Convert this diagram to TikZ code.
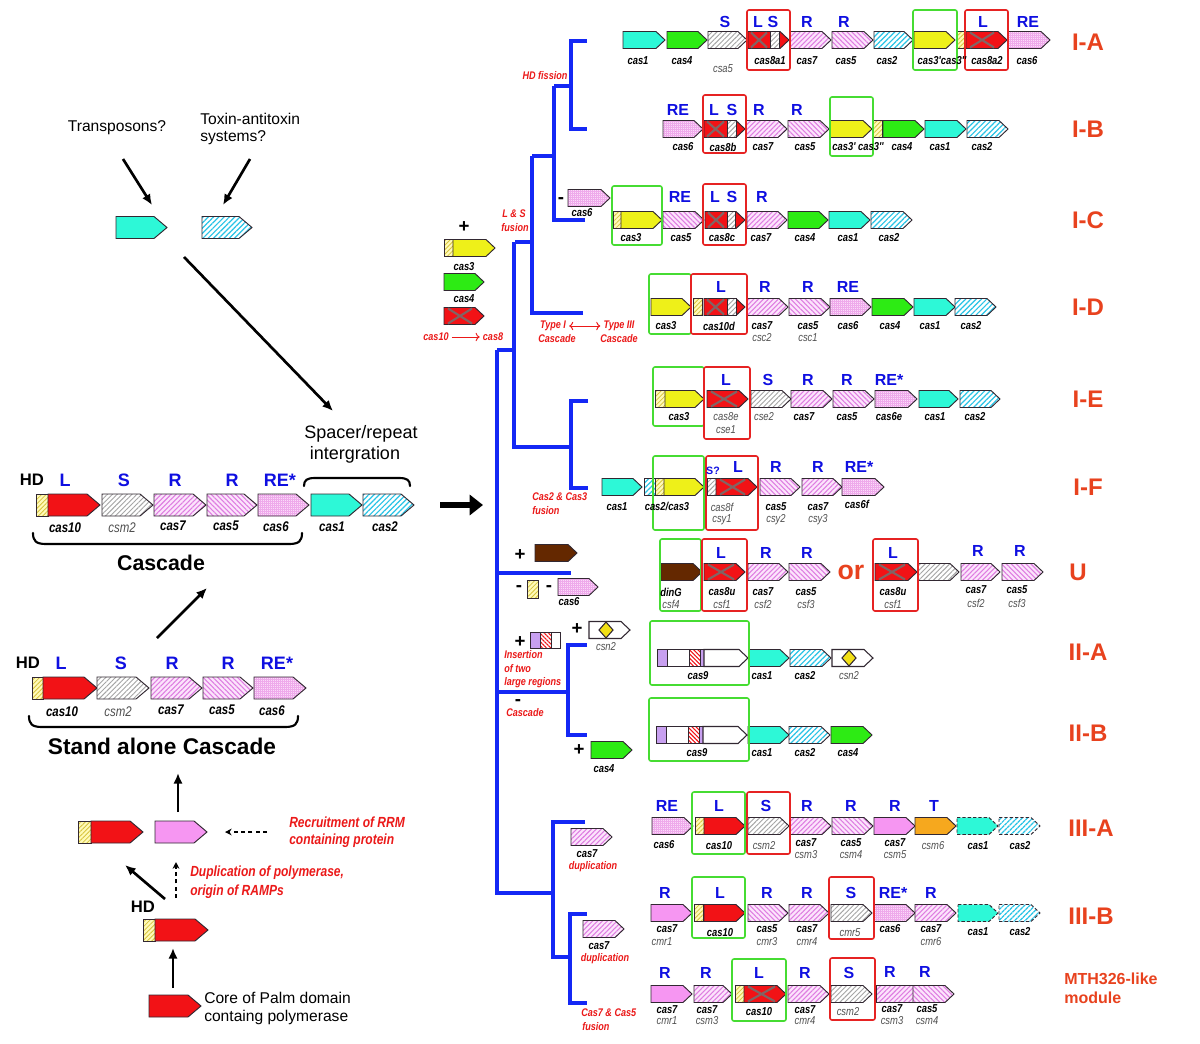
\documentclass[tikz,border=0pt]{standalone}
\usepackage{fontspec}
\setmainfont{Liberation Sans}
\newfontfamily\narrowsans{Liberation Sans}[FakeStretch=0.82]
\usetikzlibrary{patterns.meta,arrows.meta,calc}
\definecolor{cyanA}{RGB}{45,248,215}
\definecolor{cyanB}{RGB}{40,195,230}
\definecolor{grn}{RGB}{45,235,20}
\definecolor{yel}{RGB}{238,240,25}
\definecolor{hdbg}{RGB}{255,250,185}
\definecolor{hdln}{RGB}{215,195,60}
\definecolor{redg}{RGB}{242,18,22}
\definecolor{pkbg}{RGB}{252,228,252}
\definecolor{pkln}{RGB}{222,125,225}
\definecolor{p6bg}{RGB}{251,218,248}
\definecolor{p6ln}{RGB}{238,170,235}
\definecolor{pks}{RGB}{246,150,242}
\definecolor{gyln}{RGB}{165,165,165}
\definecolor{org}{RGB}{246,168,30}
\definecolor{brn}{RGB}{100,40,0}
\definecolor{pur}{RGB}{200,160,240}
\definecolor{lblue}{RGB}{15,15,225}
\definecolor{tred}{RGB}{235,25,25}
\definecolor{grpred}{RGB}{232,66,30}
\definecolor{treeblue}{RGB}{20,40,245}
\definecolor{boxgreen}{RGB}{70,220,50}
\definecolor{boxred}{RGB}{230,35,35}
\definecolor{xgray}{RGB}{130,100,100}
\definecolor{altgray}{RGB}{80,80,80}
\definecolor{ink}{RGB}{50,40,50}
\tikzset{
 gb/.style={draw=ink, line width=0.7pt},
 cA/.style={gb, fill=cyanA},
 cB/.style={gb, preaction={fill=white}, pattern={Lines[angle=45,distance=2.8pt,line width=0.9pt]}, pattern color=cyanB},
 cAd/.style={cA, dash pattern=on 2.5pt off 1.5pt},
 cBd/.style={cB, dash pattern=on 2.5pt off 1.5pt},
 gr/.style={gb, fill=grn},
 ye/.style={gb, fill=yel},
 hd/.style={gb, preaction={fill=hdbg}, pattern={Lines[angle=45,distance=2.4pt,line width=0.6pt]}, pattern color=hdln},
 rd/.style={gb, fill=redg},
 p7/.style={gb, preaction={fill=pkbg}, pattern={Lines[angle=45,distance=2.6pt,line width=0.8pt]}, pattern color=pkln},
 p5/.style={gb, preaction={fill=pkbg}, pattern={Lines[angle=-45,distance=2.6pt,line width=0.8pt]}, pattern color=pkln},
 p6/.style={gb, preaction={fill=p6bg}, pattern={Hatch[angle=0,distance=1.5pt,line width=0.3pt]}, pattern color=p6ln},
 ps/.style={gb, fill=pks},
 gy/.style={gb, preaction={fill=white}, pattern={Lines[angle=45,distance=2.6pt,line width=0.7pt]}, pattern color=gyln},
 og/.style={gb, fill=org},
 bw/.style={gb, fill=brn},
 wh/.style={gb, fill=white, line width=0.8pt},
 pu/.style={gb, fill=pur},
 rh/.style={gb, preaction={fill=white}, pattern={Lines[angle=-45,distance=2.2pt,line width=0.8pt]}, pattern color=redg},
 xline/.style={draw=xgray, line width=1.6pt},
 gbox/.style={draw=boxgreen, line width=1.2pt, rounded corners=1.5pt},
 rbox/.style={draw=boxred, line width=1.2pt, rounded corners=1.5pt},
 blutree/.style={draw=treeblue, line width=2.6pt},
 gl/.style={inner sep=0pt, font=\narrowsans\fontsize{8.6}{9}\selectfont\bfseries\itshape},
 ga/.style={inner sep=0pt, text=altgray, font=\narrowsans\fontsize{8.6}{9}\selectfont\itshape},
 glL/.style={inner sep=0pt, font=\narrowsans\fontsize{10.5}{11}\selectfont\bfseries\itshape},
 gaL/.style={inner sep=0pt, text=altgray, font=\narrowsans\fontsize{10.5}{11}\selectfont\itshape},
 bl/.style={inner sep=0pt, text=lblue, font=\fontsize{12}{14}\selectfont\bfseries},
 blL/.style={inner sep=0pt, text=lblue, font=\fontsize{13.5}{15}\selectfont\bfseries},
 hdl/.style={inner sep=0pt, font=\fontsize{12.5}{14}\selectfont\bfseries},
 grp/.style={inner sep=0pt, text=grpred, font=\fontsize{18}{21}\selectfont\bfseries},
 rl/.style={inner sep=0pt, text=tred, font=\narrowsans\fontsize{8.3}{9}\selectfont\bfseries\itshape},
 rlL/.style={inner sep=0pt, text=tred, font=\narrowsans\fontsize{11}{12}\selectfont\bfseries\itshape},
 pm/.style={inner sep=0pt, font=\fontsize{14}{16}\selectfont\bfseries},
 tx/.style={inner sep=0pt, font=\fontsize{11.7}{13}\selectfont},
 arr/.style={-{Latex[length=8pt,width=7pt]}, line width=2pt},
 darr/.style={-{Stealth[length=5pt,width=5pt]}, line width=1pt, dash pattern=on 3pt off 2.5pt},
}
\newcounter{lblcnt}
\newcommand\mylab[4][]{\stepcounter{lblcnt}\node[#1] (L\arabic{lblcnt}) at (#2,#3) {#4};}
\newcommand\gArr[4]{\path[#4] (#1,#3-8.5) -- (#2-9,#3-8.5) -- (#2,#3) -- (#2-9,#3+8.5) -- (#1,#3+8.5) -- cycle;}
\newcommand\gRect[4]{\path[#4] (#1,#3-8.5) rectangle (#2,#3+8.5);}
\newcommand\gCross[3]{\draw[xline] (#1,#3-7.5) -- (#2,#3+7.5) (#1,#3+7.5) -- (#2,#3-7.5);}
\newcommand\gBig[4]{\path[#4] (#1,#3-11) -- (#2-13,#3-11) -- (#2,#3) -- (#2-13,#3+11) -- (#1,#3+11) -- cycle;}
\newcommand\gBigRect[4]{\path[#4] (#1,#3-11) rectangle (#2,#3+11);}
\newcommand\boxG[4]{\draw[gbox] (#1,#3) rectangle (#2,#4);}
\newcommand\boxR[4]{\draw[rbox] (#1,#3) rectangle (#2,#4);}
\newcommand\dia[2]{\path[gb,fill=yel!85!orange,line width=0.8pt] (#1,#2-8) -- (#1+7,#2) -- (#1,#2+8) -- (#1-7,#2) -- cycle;}
\newcommand\casnine[2]{%
 \path[pu] (#1,#2-8.5) rectangle (#1+10,#2+8.5);
 \path[gb,fill=white] (#1+10,#2-8.5) rectangle (#1+32,#2+8.5);
 \path[rh] (#1+32,#2-8.5) rectangle (#1+43,#2+8.5);
 \path[pu] (#1+43,#2-8.5) rectangle (#1+47,#2+8.5);
 \gArr{#1+47}{#1+91}{#2}{wh}}
\begin{document}
\begin{tikzpicture}[x=0.75pt,y=-0.75pt]
\fill[white] (0,0) rectangle (1200,1043);
\path[use as bounding box] (0,0) rectangle (1200,1043);

% ================= tree =================
\draw[blutree] (587,41) -- (571,41) -- (571,129) -- (587,129);
\draw[blutree] (554,86) -- (571,86);
\draw[blutree] (585,220) -- (554,220) -- (554,86);
\draw[blutree] (532,156) -- (554,156);
\draw[blutree] (583,313) -- (532,313) -- (532,156);
\draw[blutree] (515,242) -- (532,242);
\draw[blutree] (571,447) -- (514,447) -- (514,242);
\draw[blutree] (497,350) -- (514,350);
\draw[blutree] (497,350) -- (497,893) -- (553,893);
\draw[blutree] (497,573) -- (571,573);
\draw[blutree] (497,692) -- (568,692);
\draw[blutree] (587,645) -- (568,645) -- (568,735) -- (587,735);
\draw[blutree] (588,401) -- (571,401) -- (571,488) -- (588,488);
\draw[blutree] (585,822) -- (553,822) -- (553,957) -- (570,957);
\draw[blutree] (587,914) -- (570,914) -- (570,1003) -- (587,1003);

\mylab[rl]{545}{76}{HD fission}
\mylab[rl]{514}{214}{L \& S}
\mylab[rl]{515}{228}{fusion}
\node[rl] (typeI) at (553,326) {Type I};
\node[rl] (typeIII) at (619,326) {Type III};
\draw[tred, line width=0.7pt, {To[length=3pt]}-{To[length=3pt]}] ($(typeI.east)+(3,0)$) -- ($(typeIII.west)+(-3,0)$);
\mylab[rl]{557}{339}{Cascade}
\mylab[rl]{619}{339}{Cascade}
\mylab[rl, anchor=west]{532}{497}{Cas2 \& Cas3}
\mylab[rl, anchor=west]{532}{511}{fusion}

% left-of-tree insert genes
\mylab[pm]{464}{227}{+}
\gRect{444}{453}{248}{hd} \gArr{453}{495}{248}{ye}
\mylab[gl]{464}{267}{cas3}
\gArr{444}{484}{282}{gr}
\mylab[gl]{464}{299}{cas4}
\gArr{444}{484}{316}{rd} \gCross{448}{472}{316}
\node[rl] (c10) at (436,337) {cas10};
\node[rl] (c8) at (493,337) {cas8};
\draw[tred, line width=0.7pt, -{To[length=3pt]}] ($(c10.east)+(3,0)$) -- ($(c8.west)+(-3,0)$);

% ================= I-A =================
\gArr{623}{665}{40}{cA}
\gArr{667}{707}{40}{gr}
\gArr{708}{747}{40}{gy}
\gArr{748}{789}{40}{rd} \gRect{770}{779}{40}{gy} \gCross{751}{767}{40}
\gArr{790}{831}{40}{p7}
\gArr{832}{873}{40}{p5}
\gArr{874}{913}{40}{cB}
\gArr{914}{955}{40}{ye}
\gRect{956}{966}{40}{hd}
\gArr{966}{1007}{40}{rd} \gCross{970}{994}{40}
\gArr{1008}{1050}{40}{p6}
\boxR{747}{790}{10}{70} \boxG{913}{957}{10}{70} \boxR{965}{1008}{10}{70}
\mylab[bl]{725}{22}{S} \mylab[bl]{758}{22}{L} \mylab[bl]{773}{22}{S}
\mylab[bl]{807}{22}{R} \mylab[bl]{844}{22}{R} \mylab[bl]{983}{22}{L} \mylab[bl]{1028}{22}{RE}
\mylab[gl]{638}{61}{cas1} \mylab[gl]{682}{61}{cas4} \mylab[ga]{723}{69}{csa5}
\mylab[gl]{770}{61}{cas8a1} \mylab[gl]{807}{61}{cas7} \mylab[gl]{846}{61}{cas5}
\mylab[gl]{887}{61}{cas2} \mylab[gl]{942}{61}{cas3'cas3''} \mylab[gl]{987}{61}{cas8a2}
\mylab[gl]{1027}{61}{cas6}
\mylab[grp]{1088}{42}{I-A}

% ================= I-B =================
\gArr{663}{703}{129}{p6}
\gArr{704}{745}{129}{rd} \gRect{727}{736}{129}{gy} \gCross{707}{724}{129}
\gArr{746}{787}{129}{p7}
\gArr{788}{829}{129}{p5}
\gArr{830}{872}{129}{ye}
\gRect{872}{882}{129}{hd}
\gArr{883}{924}{129}{gr}
\gArr{925}{966}{129}{cA}
\gArr{967}{1008}{129}{cB}
\boxR{703}{746}{95}{153} \boxG{830}{873}{97}{156}
\mylab[bl]{678}{110}{RE} \mylab[bl]{714}{110}{L} \mylab[bl]{732}{110}{S}
\mylab[bl]{759}{110}{R} \mylab[bl]{797}{110}{R}
\mylab[gl]{683}{147}{cas6} \mylab[gl]{723}{147}{cas8b} \mylab[gl]{763}{147}{cas7}
\mylab[gl]{805}{147}{cas5} \mylab[gl]{858}{147}{cas3' cas3''} \mylab[gl]{902}{147}{cas4}
\mylab[gl]{940}{147}{cas1} \mylab[gl]{982}{147}{cas2}
\mylab[grp]{1088}{129}{I-B}

% ================= I-C =================
\mylab[pm]{561}{201}{-}
\gArr{568}{610}{198}{p6}
\mylab[gl]{582}{213}{cas6}
\gRect{613}{621}{220}{hd} \gArr{621}{662}{220}{ye}
\gArr{663}{704}{220}{p5}
\gArr{705}{745}{220}{rd} \gRect{727}{735}{220}{gy} \gCross{708}{724}{220}
\gArr{747}{787}{220}{p7}
\gArr{788}{828}{220}{gr}
\gArr{829}{870}{220}{cA}
\gArr{871}{912}{220}{cB}
\boxG{612}{662}{186}{245} \boxR{703}{746}{184}{245}
\mylab[bl]{680}{197}{RE} \mylab[bl]{715}{197}{L} \mylab[bl]{732}{197}{S} \mylab[bl]{762}{197}{R}
\mylab[gl]{631}{238}{cas3} \mylab[gl]{681}{238}{cas5} \mylab[gl]{722}{238}{cas8c}
\mylab[gl]{761}{238}{cas7} \mylab[gl]{805}{238}{cas4} \mylab[gl]{848}{238}{cas1} \mylab[gl]{889}{238}{cas2}
\mylab[grp]{1088}{220}{I-C}

% ================= I-D =================
\gArr{651}{691}{307}{ye}
\gRect{693}{702}{307}{hd}
\gArr{704}{745}{307}{rd} \gRect{727}{736}{307}{gy} \gCross{707}{724}{307}
\gArr{747}{788}{307}{p7}
\gArr{789}{830}{307}{p5}
\gArr{830}{871}{307}{p6}
\gArr{872}{913}{307}{gr}
\gArr{914}{955}{307}{cA}
\gArr{955}{996}{307}{cB}
\boxG{649}{691}{274}{334} \boxR{691}{747}{274}{334}
\mylab[bl]{721}{287}{L} \mylab[bl]{765}{287}{R} \mylab[bl]{808}{287}{R} \mylab[bl]{848}{287}{RE}
\mylab[gl]{666}{326}{cas3} \mylab[gl]{719}{326}{cas10d} \mylab[gl]{762}{326}{cas7}
\mylab[gl]{808}{326}{cas5} \mylab[gl]{848}{326}{cas6} \mylab[gl]{890}{326}{cas4}
\mylab[gl]{930}{326}{cas1} \mylab[gl]{971}{326}{cas2}
\mylab[ga]{762}{338}{csc2} \mylab[ga]{808}{338}{csc1}
\mylab[grp]{1088}{307}{I-D}

% ================= I-E =================
\gRect{655}{665}{399}{hd} \gArr{665}{704}{399}{ye}
\gArr{707}{748}{399}{rd} \gCross{711}{737}{399}
\gArr{751}{791}{399}{gy}
\gArr{791}{832}{399}{p7}
\gArr{833}{874}{399}{p5}
\gArr{875}{917}{399}{p6}
\gArr{919}{958}{399}{cA}
\gArr{960}{1000}{399}{cB}
\boxG{653}{704}{367}{426} \boxR{704}{750}{367}{439}
\mylab[bl]{726}{380}{L} \mylab[bl]{768}{380}{S} \mylab[bl]{808}{380}{R}
\mylab[bl]{847}{380}{R} \mylab[bl]{889}{380}{RE*}
\mylab[gl]{679}{417}{cas3} \mylab[ga]{726}{417}{cas8e} \mylab[ga]{726}{430}{cse1}
\mylab[ga]{764}{417}{cse2} \mylab[gl]{804}{417}{cas7} \mylab[gl]{847}{417}{cas5}
\mylab[gl]{889}{417}{cas6e} \mylab[gl]{935}{417}{cas1} \mylab[gl]{975}{417}{cas2}
\mylab[grp]{1088}{399}{I-E}

% ================= I-F =================
\gArr{602}{642}{487}{cA}
\gRect{644}{655}{487}{cB} \gRect{655}{664}{487}{hd} \gArr{664}{704}{487}{ye}
\gRect{707}{716}{487}{gy} \gArr{716}{757}{487}{rd} \gCross{720}{745}{487}
\gArr{760}{800}{487}{p5}
\gArr{802}{842}{487}{p7}
\gArr{842}{884}{487}{p6}
\boxG{653}{704}{456}{530} \boxR{706}{758}{456}{530}
\mylab[bl, font=\fontsize{8}{9}\selectfont\bfseries]{713}{471}{S?}
\mylab[bl]{738}{467}{L} \mylab[bl]{776}{467}{R} \mylab[bl]{818}{467}{R} \mylab[bl]{859}{467}{RE*}
\mylab[gl]{617}{507}{cas1} \mylab[gl]{667}{506}{cas2/cas3} \mylab[ga]{722}{507}{cas8f}
\mylab[ga]{722}{520}{csy1} \mylab[gl]{776}{507}{cas5} \mylab[ga]{776}{520}{csy2}
\mylab[gl]{818}{507}{cas7} \mylab[ga]{818}{520}{csy3} \mylab[gl]{857}{504}{cas6f}
\mylab[grp]{1088}{487}{I-F}

% ================= U =================
\mylab[pm]{520}{555}{+}
\gArr{535}{577}{553}{bw}
\mylab[pm]{519}{589}{-}
\path[hd] (527,580) rectangle (538,598);
\mylab[pm]{549}{589}{-}
\gArr{558}{598}{587}{p6}
\mylab[gl]{569}{602}{cas6}
\gArr{661}{702}{572}{bw}
\gArr{704}{745}{572}{rd} \gCross{708}{734}{572}
\gArr{748}{788}{572}{p7}
\gArr{789}{830}{572}{p5}
\gArr{875}{917}{572}{rd} \gCross{879}{905}{572}
\gArr{918}{959}{572}{gy}
\gArr{961}{1000}{572}{p7}
\gArr{1002}{1043}{572}{p5}
\boxG{660}{701}{539}{611} \boxR{702}{747}{539}{611} \boxR{873}{918}{539}{611}
\mylab[grp, font=\fontsize{20}{22}\selectfont\bfseries]{851}{572}{or}
\mylab[bl]{721}{553}{L} \mylab[bl]{766}{553}{R} \mylab[bl]{807}{553}{R}
\mylab[bl]{893}{553}{L} \mylab[bl]{978}{551}{R} \mylab[bl]{1020}{551}{R}
\mylab[gl]{671}{592}{dinG} \mylab[gl]{722}{592}{cas8u} \mylab[gl]{763}{592}{cas7} \mylab[gl]{806}{592}{cas5}
\mylab[ga]{671}{604}{csf4} \mylab[ga]{722}{604}{csf1} \mylab[ga]{763}{604}{csf2} \mylab[ga]{806}{604}{csf3}
\mylab[gl]{893}{592}{cas8u} \mylab[ga]{893}{604}{csf1}
\mylab[gl]{976}{590}{cas7} \mylab[ga]{976}{603}{csf2}
\mylab[gl]{1017}{590}{cas5} \mylab[ga]{1017}{603}{csf3}
\mylab[grp]{1078}{572}{U}

% ================= II-A =================
\mylab[pm]{520}{642}{+}
\path[pu] (530,632) rectangle (540,648);
\path[rh] (540,632) rectangle (551,648);
\path[gb,fill=white] (551,632) rectangle (560,648);
\mylab[pm]{577}{629}{+}
\gArr{589}{630}{630}{wh} \dia{606}{630}
\mylab[ga]{606}{647}{csn2}
\casnine{657}{658}
\gArr{749}{789}{658}{cA} \gArr{790}{831}{658}{cB} \gArr{832}{873}{658}{wh} \dia{849}{658}
\boxG{650}{749}{621}{685}
\mylab[gl]{698}{676}{cas9} \mylab[gl]{762}{676}{cas1} \mylab[gl]{805}{676}{cas2} \mylab[ga]{849}{676}{csn2}
\mylab[rl, anchor=west]{504}{655}{Insertion}
\mylab[rl, anchor=west]{504}{669}{of two}
\mylab[rl, anchor=west]{504}{683}{large regions}
\mylab[grp]{1088}{652}{II-A}

% ================= II-B =================
\casnine{656}{735}
\gArr{748}{789}{735}{cA} \gArr{789}{830}{735}{cB} \gArr{831}{872}{735}{gr}
\boxG{649}{749}{698}{761}
\mylab[gl]{697}{753}{cas9} \mylab[gl]{762}{753}{cas1} \mylab[gl]{805}{753}{cas2} \mylab[gl]{848}{753}{cas4}
\mylab[pm]{579}{750}{+}
\gArr{591}{632}{750}{gr}
\mylab[gl]{604}{769}{cas4}
\mylab[pm]{518}{703}{-}
\mylab[rl, anchor=west]{506}{713}{Cascade}
\mylab[grp]{1088}{733}{II-B}

% ================= III-A =================
\gArr{652}{693}{826}{p6}
\gRect{695}{704}{826}{hd} \gArr{704}{745}{826}{rd}
\gArr{748}{789}{826}{gy}
\gArr{790}{831}{826}{p7}
\gArr{832}{873}{826}{p5}
\gArr{874}{915}{826}{ps}
\gArr{915}{956}{826}{og}
\gArr{957}{998}{826}{cAd}
\gArr{999}{1040}{826}{cBd}
\boxG{692}{745}{792}{854} \boxR{747}{790}{792}{854}
\mylab[bl]{667}{806}{RE} \mylab[bl]{719}{806}{L} \mylab[bl]{766}{806}{S} \mylab[bl]{807}{806}{R}
\mylab[bl]{851}{806}{R} \mylab[bl]{895}{806}{R} \mylab[bl]{934}{806}{T}
\mylab[gl]{664}{845}{cas6} \mylab[gl]{719}{846}{cas10} \mylab[ga]{764}{846}{csm2}
\mylab[gl]{806}{843}{cas7} \mylab[ga]{806}{855}{csm3}
\mylab[gl]{851}{843}{cas5} \mylab[ga]{851}{855}{csm4}
\mylab[gl]{895}{843}{cas7} \mylab[ga]{895}{855}{csm5}
\mylab[ga]{933}{846}{csm6} \mylab[gl]{978}{846}{cas1} \mylab[gl]{1020}{846}{cas2}
\mylab[grp]{1091}{828}{III-A}
\gArr{571}{612}{837}{p7}
\mylab[gl]{587}{854}{cas7}
\mylab[rl]{593}{867}{duplication}

% ================= III-B =================
\gArr{651}{692}{913}{ps}
\gRect{694}{703}{913}{hd} \gArr{704}{745}{913}{rd}
\gArr{748}{788}{913}{p5}
\gArr{789}{829}{913}{p7}
\gArr{831}{872}{913}{gy}
\gArr{874}{915}{913}{p6}
\gArr{915}{956}{913}{p7}
\gArr{958}{998}{913}{cAd}
\gArr{999}{1040}{913}{cBd}
\boxG{692}{745}{877}{938} \boxR{829}{874}{877}{939}
\mylab[bl]{665}{893}{R} \mylab[bl]{720}{893}{L} \mylab[bl]{767}{893}{R} \mylab[bl]{807}{893}{R}
\mylab[bl]{851}{893}{S} \mylab[bl]{893}{893}{RE*} \mylab[bl]{931}{893}{R}
\mylab[gl]{667}{929}{cas7} \mylab[ga]{662}{942}{cmr1}
\mylab[gl]{720}{933}{cas10}
\mylab[gl]{767}{929}{cas5} \mylab[ga]{767}{942}{cmr3}
\mylab[gl]{807}{929}{cas7} \mylab[ga]{807}{942}{cmr4}
\mylab[ga]{850}{933}{cmr5} \mylab[gl]{890}{929}{cas6}
\mylab[gl]{931}{929}{cas7} \mylab[ga]{931}{942}{cmr6}
\mylab[gl]{978}{932}{cas1} \mylab[gl]{1020}{932}{cas2}
\mylab[grp]{1091}{916}{III-B}
\gArr{583}{624}{929}{p7}
\mylab[gl]{599}{946}{cas7}
\mylab[rl]{605}{959}{duplication}

% ================= MTH326-like =================
\gArr{651}{692}{994}{ps}
\gArr{694}{732}{994}{p7}
\gRect{735}{744}{994}{hd} \gArr{744}{786}{994}{rd} \gCross{748}{775}{994}
\gArr{788}{829}{994}{p7}
\gArr{831}{872}{994}{gy}
\gRect{876}{913}{994}{p7} \gArr{913}{954}{994}{p5}
\boxG{732}{786}{959}{1021} \boxR{830}{875}{958}{1020}
\mylab[bl]{665}{973}{R} \mylab[bl]{706}{973}{R} \mylab[bl]{759}{973}{L} \mylab[bl]{805}{973}{R}
\mylab[bl]{849}{973}{S} \mylab[bl]{890}{972}{R} \mylab[bl]{925}{972}{R}
\mylab[gl]{667}{1010}{cas7} \mylab[ga]{667}{1021}{cmr1}
\mylab[gl]{707}{1010}{cas7} \mylab[ga]{707}{1021}{csm3}
\mylab[gl]{759}{1012}{cas10}
\mylab[gl]{805}{1010}{cas7} \mylab[ga]{805}{1021}{cmr4}
\mylab[ga]{848}{1012}{csm2}
\mylab[gl]{892}{1009}{cas7} \mylab[ga]{892}{1021}{csm3}
\mylab[gl]{927}{1009}{cas5} \mylab[ga]{927}{1021}{csm4}
\mylab[grp, font=\fontsize{12}{14}\selectfont\bfseries, anchor=west]{1064}{979}{MTH326-like}
\mylab[grp, font=\fontsize{12}{14}\selectfont\bfseries, anchor=west]{1064}{998}{module}
\mylab[rl, anchor=west]{581}{1013}{Cas7 \& Cas5}
\mylab[rl, anchor=west]{582}{1027}{fusion}

% ================= left side =================
\mylab[tx]{117}{128}{Transposons?}
\mylab[tx, anchor=west]{200}{119}{Toxin-antitoxin}
\mylab[tx, anchor=west]{200}{138}{systems?}
\coordinate (tpA) at (123,159); \coordinate (tpB) at (152,205);
\coordinate (taA) at (250,159); \coordinate (taB) at (223,205);
\draw[arr] (tpA) -- (tpB);
\draw[arr] (taA) -- (taB);
\gBig{116}{167}{227.5}{cA}
\gBig{202}{252}{227.5}{cB}
\coordinate (dgA) at (184,257); \coordinate (dgB) at (333,411);
\draw[arr] (dgA) -- (dgB);

% Cascade row
\gBigRect{36}{48}{505}{hd}
\gBig{48}{100}{505}{rd}
\gBig{102}{153}{505}{gy}
\gBig{154}{206}{505}{p7}
\gBig{207}{257}{505}{p5}
\gBig{258}{309}{505}{p6}
\gBig{311}{362}{505}{cA}
\gBig{363}{414}{505}{cB}
\mylab[hdl]{32}{480}{HD}
\mylab[blL]{65}{480}{L} \mylab[blL]{124}{480}{S} \mylab[blL]{175}{480}{R}
\mylab[blL]{232}{480}{R} \mylab[blL]{280}{480}{RE*}
\mylab[glL]{65}{528}{cas10} \mylab[gaL]{122}{528}{csm2} \mylab[glL]{173}{526}{cas7}
\mylab[glL]{226}{526}{cas5} \mylab[glL]{276}{527}{cas6} \mylab[glL]{332}{527}{cas1} \mylab[glL]{385}{527}{cas2}
\draw[line width=1.6pt, line cap=round] (33,533) .. controls (33,541) and (36,544) .. (46,544) -- (289,544) .. controls (299,544) and (302,541) .. (302,533);
\mylab[inner sep=0pt, font=\fontsize{16}{18}\selectfont\bfseries]{161}{563}{Cascade}
\draw[line width=1.6pt, line cap=round] (304,486) .. controls (304,480) and (307,478) .. (315,478) -- (399,478) .. controls (407,478) and (410,480) .. (410,486);
\mylab[tx, font=\fontsize{13.5}{15}\selectfont]{361}{434}{Spacer/repeat}
\mylab[tx, font=\fontsize{13.5}{15}\selectfont]{355}{455}{intergration}
\coordinate (baA) at (440,505); \coordinate (baB) at (483,505);
\draw[line width=4.5pt, -{Triangle[length=10pt,width=15pt]}] (baA) -- (baB);
\coordinate (caA) at (157,638); \coordinate (caB) at (207,588);
\draw[arr] (caA) -- (caB);

% Stand alone row
\gBigRect{32}{43}{688}{hd}
\gBig{43}{97}{688}{rd}
\gBig{97}{149}{688}{gy}
\gBig{151}{202}{688}{p7}
\gBig{203}{253}{688}{p5}
\gBig{254}{306}{688}{p6}
\mylab[hdl]{28}{663}{HD}
\mylab[blL]{61}{663}{L} \mylab[blL]{121}{663}{S} \mylab[blL]{172}{663}{R}
\mylab[blL]{228}{663}{R} \mylab[blL]{277}{663}{RE*}
\mylab[glL]{62}{712}{cas10} \mylab[gaL]{118}{712}{csm2} \mylab[glL]{171}{710}{cas7}
\mylab[glL]{222}{710}{cas5} \mylab[glL]{272}{711}{cas6}
\draw[line width=1.6pt, line cap=round] (29,716) .. controls (29,724) and (32,727) .. (42,727) -- (285,727) .. controls (295,727) and (298,724) .. (298,716);
\mylab[inner sep=0pt, font=\fontsize{17}{19}\selectfont\bfseries]{162}{746}{Stand alone Cascade}
\coordinate (saA) at (178,812); \coordinate (saB) at (178,773);
\draw[arr] (saA) -- (saB);

% middle row
\gBigRect{78}{91}{832}{hd}
\gBig{91}{143}{832}{rd}
\gBig{155}{207}{832}{ps}
\coordinate (rrA) at (267,832); \coordinate (rrB) at (225,832);
\draw[darr] (rrA) -- (rrB);
\mylab[rlL, anchor=west]{289}{822}{Recruitment of RRM}
\mylab[rlL, anchor=west]{289}{841}{containing protein}
\coordinate (dpA) at (165,899); \coordinate (dpB) at (125,865);
\draw[arr] (dpA) -- (dpB);
\coordinate (doA) at (176,898); \coordinate (doB) at (176,862);
\draw[darr] (doA) -- (doB);
\mylab[rlL, anchor=west]{190}{873}{Duplication of polymerase,}
\mylab[rlL, anchor=west]{190}{892}{origin of RAMPs}

% HD + polymerase
\mylab[hdl]{143}{907}{HD}
\gBigRect{143}{155}{930}{hd}
\gBig{155}{208}{930}{rd}
\coordinate (cpA) at (173,988); \coordinate (cpB) at (173,948);
\draw[arr] (cpA) -- (cpB);
\gBig{149}{201}{1006}{rd}
\mylab[tx, anchor=west]{204}{998}{Core of Palm domain}
\mylab[tx, anchor=west]{204}{1017}{containg polymerase}
\end{tikzpicture}
\end{document}
